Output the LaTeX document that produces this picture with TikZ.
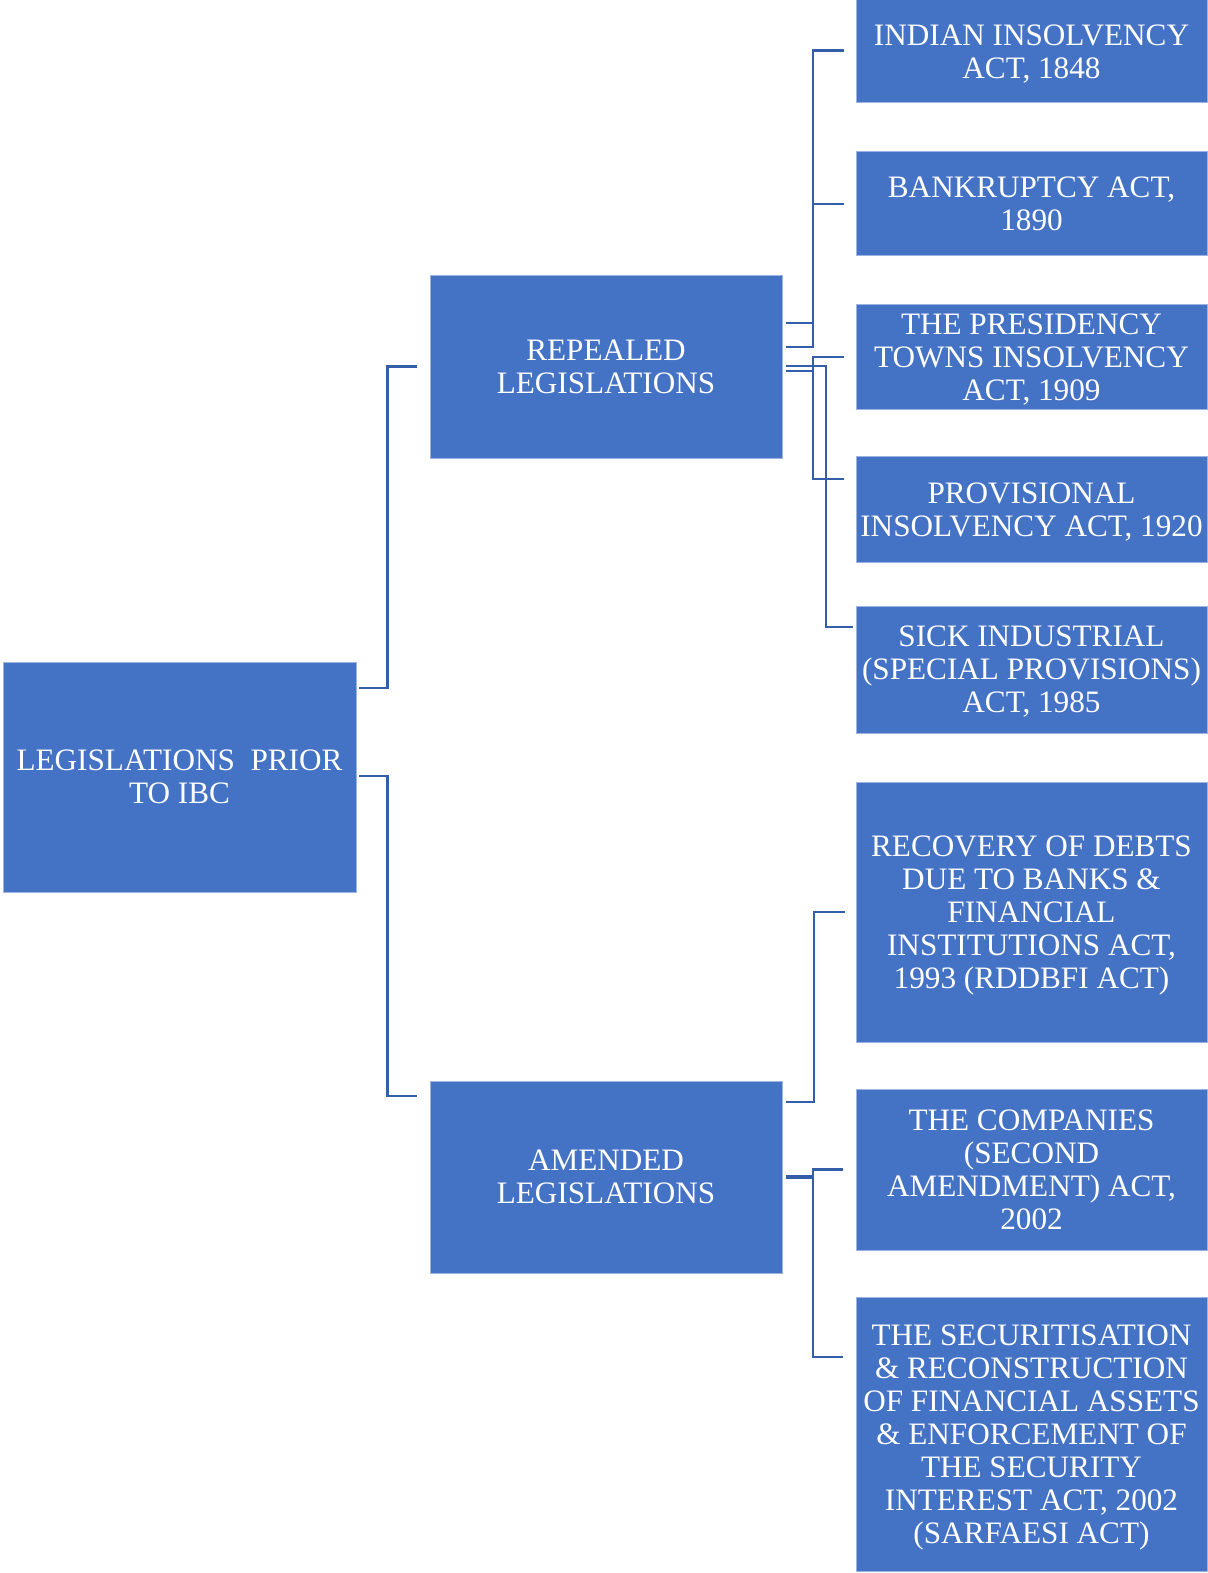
\documentclass[tikz,border=0pt]{standalone}
\usepackage{fontspec}
\setmainfont{Liberation Serif}
\definecolor{boxblue}{HTML}{4472C4}
\definecolor{boxedge}{HTML}{9DB3E0}
\definecolor{linkblue}{RGB}{52,94,170}
\begin{document}
\begin{tikzpicture}[x=0.5pt,y=-0.5pt,
  box/.style={rectangle, fill=boxblue, draw=boxedge, line width=0.5pt,
    inner sep=0pt, align=center, text=white,
    font=\fontsize{15.6pt}{16.5pt}\selectfont,
    % a fixed depth keeps every text block at the same place in its box
    text depth=-2pt},
  leaf/.style={box, minimum width=175.5pt},
  conn/.style={draw=linkblue, line width=1.1pt, line join=miter}]
\useasboundingbox[fill=white] (0,0) rectangle (1207,1573);

% root and the two groups
\node[box, minimum width=176.5pt, minimum height=115pt] (root) at (179.5,777)
  {LEGISLATIONS\ \ PRIOR\\TO IBC};
\node[box, minimum width=176pt, minimum height=91.5pt] (rep) at (606,366.5)
  {REPEALED\\LEGISLATIONS};
\node[box, minimum width=176pt, minimum height=96pt] (amd) at (606,1177)
  {AMENDED\\LEGISLATIONS};

% repealed acts
\node[leaf, minimum height=51.5pt] (ind) at (1031.5,51.5)
  {INDIAN INSOLVENCY\\ACT, 1848};
\node[leaf, minimum height=52.25pt] (bnk) at (1031.5,203.75)
  {BANKRUPTCY ACT,\\1890};
\node[leaf, minimum height=52.75pt] (pres) at (1031.5,356.75)
  {THE PRESIDENCY\\TOWNS INSOLVENCY\\ACT, 1909};
\node[leaf, minimum height=52.75pt] (prov) at (1031.5,509.25)
  {PROVISIONAL\\INSOLVENCY ACT, 1920};
\node[leaf, minimum height=63.5pt] (sick) at (1031.5,669.5)
  {SICK INDUSTRIAL\\(SPECIAL PROVISIONS)\\ACT, 1985};

% amended acts
\node[leaf, minimum height=130pt] (rec) at (1031.5,912)
  {RECOVERY OF DEBTS\\DUE TO BANKS \&\\FINANCIAL\\INSTITUTIONS ACT,\\1993 (RDDBFI ACT)};
\node[leaf, minimum height=80.5pt] (comp) at (1031.5,1169.5)
  {THE COMPANIES\\(SECOND\\AMENDMENT) ACT,\\2002};
\node[leaf, minimum height=137pt] (sec) at (1031.5,1434)
  {THE SECURITISATION\\\& RECONSTRUCTION\\OF FINANCIAL ASSETS\\\& ENFORCEMENT OF\\THE SECURITY\\INTEREST ACT, 2002\\(SARFAESI ACT)};

% vertical bus positions
\coordinate (busL) at (387.5,0);
\coordinate (busR) at (813,0);
\coordinate (busS) at (826,0);
\coordinate (busA) at (814,0);

% root connectors
\coordinate (rt1) at ([xshift=1pt,yshift=44.5pt]root.east);
\coordinate (rt2) at ([xshift=1pt,yshift=0.5pt]root.east);
\coordinate (repin) at ([xshift=-6.5pt]rep.west);
\coordinate (amdin) at ([xshift=-6.5pt,yshift=40.5pt]amd.west);
\draw[conn] (rt1) -- (rt1 -| busL) |- (repin);
\draw[conn] (rt2) -- (rt2 -| busL) |- (amdin);

% repealed connectors
\coordinate (r1) at ([xshift=1.5pt,yshift=21.75pt]rep.east);
\coordinate (r2) at ([xshift=1.5pt,yshift=9.75pt]rep.east);
\coordinate (r3) at ([xshift=1.5pt,yshift=0.25pt]rep.east);
\coordinate (r4) at ([xshift=1.5pt,yshift=-2.25pt]rep.east);
\coordinate (indin) at ([xshift=-6pt,yshift=0.5pt]ind.west);
\coordinate (bnkin) at ([xshift=-6pt]bnk.west);
\coordinate (presin) at ([xshift=-6pt]pres.west);
\coordinate (provin) at ([xshift=-6pt,yshift=15.1pt]prov.west);
\coordinate (sickin) at ([xshift=-1.5pt,yshift=21.25pt]sick.west);
\draw[conn] (r2) -- (r2 -| busR) |- (indin);
\draw[conn] (r1) -- (r1 -| busR) |- (bnkin);
\draw[conn] (r4) -- (r4 -| busR) |- (presin);
\draw[conn] (r4) -- (r4 -| busR) |- (provin);
\draw[conn] (r3) -- (r3 -| busS) |- (sickin);

% amended connectors
\coordinate (a1) at ([xshift=1.5pt,yshift=37.5pt]amd.east);
\coordinate (a2) at ([xshift=1.5pt,yshift=0.5pt]amd.east);
\coordinate (a3) at ([xshift=1.5pt,yshift=-0.5pt]amd.east);
\coordinate (recin) at ([xshift=-5.5pt]rec.west);
\coordinate (compin) at ([xshift=-6.5pt]comp.west);
\coordinate (secin) at ([xshift=-6.5pt,yshift=38.5pt]sec.west);
\draw[conn] (a1) -- (a1 -| busA) |- (recin);
\draw[conn] (a2) -- (a2 -| busR) |- (compin);
\draw[conn] (a3) -- (a3 -| busR) |- (secin);
\end{tikzpicture}
\end{document}
